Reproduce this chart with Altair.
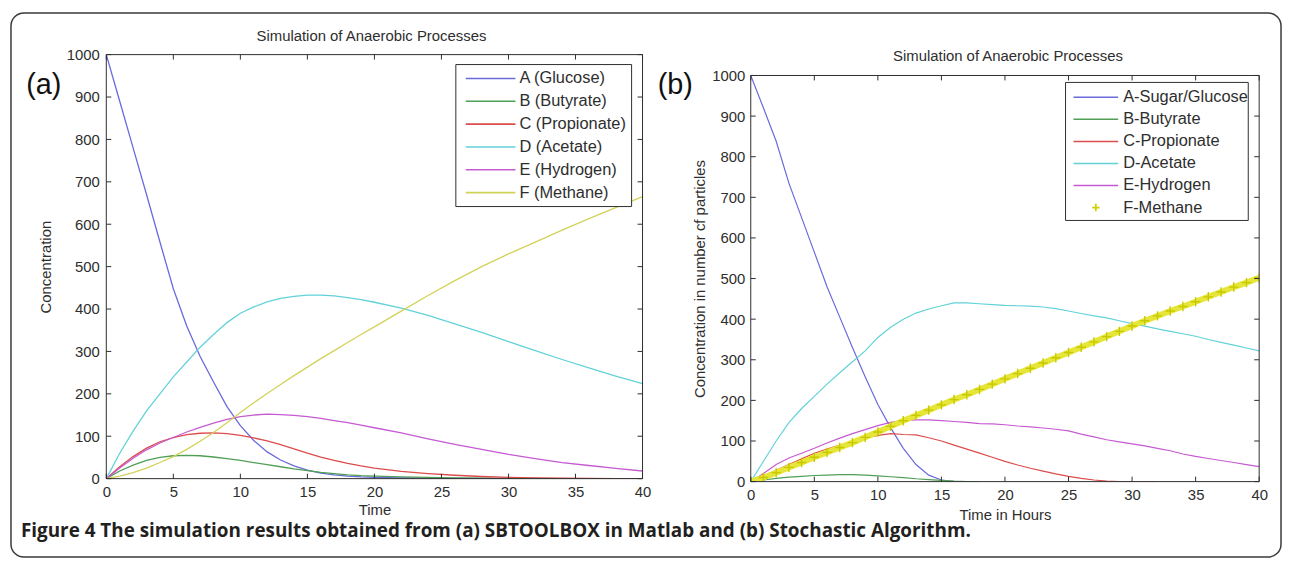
import altair as alt
import pandas as pd

# ---------------- shared text ----------------
TITLE = "Simulation of Anaerobic Processes"
CAPTION = "Figure 4 The simulation results obtained from (a) SBTOOLBOX in Matlab and (b) Stochastic Algorithm."
X_TICKS = [0, 5, 10, 15, 20, 25, 30, 35, 40]
Y_TICKS = [0, 100, 200, 300, 400, 500, 600, 700, 800, 900, 1000]

# ---------------- panel (a): SBTOOLBOX in Matlab ----------------
NAMES_A = ["A (Glucose)", "B (Butyrate)", "C (Propionate)", "D (Acetate)", "E (Hydrogen)", "F (Methane)"]
COLORS_A = ["#6a6adc", "#4f9f55", "#dc4c4c", "#62d2d8", "#c65ad2", "#d2d25a"]
T_A = [0, 1, 2, 3, 4, 5, 6, 7, 8, 9, 10, 11, 12, 13, 14, 15, 16, 17, 18, 19, 20,
       22, 24, 26, 28, 30, 32, 34, 36, 38, 40]
A_GLUCOSE = [1000, 890, 780, 670, 558, 448, 360, 288, 228, 170, 125, 90, 63, 44, 30, 20, 13, 9, 6, 4, 3,
             1.5, 1, 0.5, 0.3, 0, 0, 0, 0, 0, 0]
B_BUTYRATE = [0, 18, 32, 43, 50, 54, 55, 54, 51, 47, 43, 38, 33, 28, 23, 19, 15, 12, 9, 7, 6,
              4, 3, 2, 1, 0.5, 0.3, 0, 0, 0, 0]
C_PROPIONATE = [0, 28, 52, 72, 87, 97, 104, 107, 108, 106, 102, 96, 89, 80, 70, 60, 51, 43, 36, 30, 25,
                17, 12, 8, 5, 3, 2, 1, 0.5, 0, 0]
D_ACETATE = [0, 60, 112, 160, 200, 240, 275, 310, 340, 368, 390, 405, 417, 425, 430, 433, 433, 431, 427, 422, 416,
             402, 385, 365, 345, 323, 302, 281, 261, 242, 224]
E_HYDROGEN = [0, 25, 48, 68, 84, 97, 110, 121, 131, 140, 146, 150, 152, 151, 149, 146, 142, 137, 132, 126, 120,
              108, 94, 81, 69, 57, 47, 38, 31, 24, 18]
F_METHANE = [0, 6, 14, 25, 38, 52, 69, 88, 109, 132, 156, 179, 201, 222, 243, 263, 283, 302, 321, 340, 358,
             395, 432, 467, 500, 530, 558, 586, 613, 639, 665]

# ---------------- panel (b): Stochastic Algorithm ----------------
NAMES_B = ["A-Sugar/Glucose", "B-Butyrate", "C-Propionate", "D-Acetate", "E-Hydrogen", "F-Methane"]
COLORS_B = ["#3a3aa6", "#3f8f45", "#d25a5a", "#52c4c6", "#a646b4", "#dcdc1e"]
T_B = [0, 1, 2, 3, 4, 5, 6, 7, 8, 9, 10, 11, 12, 13, 14, 15, 16, 17, 18, 19, 20,
       21, 22, 23, 24, 25, 26, 27, 28, 29, 30, 31, 32, 33, 34, 35, 36, 37, 38, 39, 40]
A_SUGAR = [1000, 920, 838, 735, 650, 565, 480, 405, 330, 258, 190, 133, 82, 42, 16, 4, 0]
B_BUT = [0, 4, 8, 11, 13, 15, 16, 17, 17, 16, 14, 12, 10, 7, 5, 3, 1, 0, 0]
C_PROP = [0, 14, 28, 42, 56, 70, 80, 90, 99, 107, 114, 118, 116, 115, 108, 100, 90, 80, 70, 60, 50,
          41, 33, 26, 19, 13, 8, 4, 1, 0, 0, 0, 0]
D_ACE = [0, 50, 100, 145, 180, 210, 240, 268, 295, 322, 355, 380, 400, 415, 425, 433, 440, 440, 438, 436, 434,
         433, 432, 430, 426, 420, 414, 408, 403, 396, 389, 383, 376, 370, 364, 358, 350, 343, 336, 329, 322]
E_HYD = [0, 20, 42, 58, 70, 82, 95, 107, 118, 128, 138, 146, 150, 152, 152, 150, 148, 146, 143, 142, 140,
         137, 135, 132, 129, 125, 117, 110, 103, 98, 93, 88, 82, 76, 68, 62, 57, 52, 47, 42, 37]
F_METH = [0, 10, 22, 35, 47, 60, 72, 84, 96, 109, 122, 136, 150, 163, 176, 189, 202, 214, 227, 240, 253,
          266, 279, 292, 305, 318, 331, 344, 357, 370, 383, 396, 408, 420, 431, 443, 455, 467, 479, 490, 502]

FONT = "Liberation Sans"
INK = "#2e2e2e"
PLUS = "M-1,0L1,0M0,-1L0,1"


def long_df(names, t, cols):
    rows = []
    for n, vals in zip(names, cols):
        for ti, vi in zip(t, vals):
            rows.append({"s": n, "t": ti, "v": vi})
    return pd.DataFrame(rows)


def one():
    return pd.DataFrame({"k": [0]})


def label(text, x, y, size, align="center", weight="normal", font=FONT, color=INK):
    return alt.Chart(one()).mark_text(
        text=text, align=align, baseline="middle", font=font, fontSize=size,
        fontWeight=weight, color=color
    ).encode(x=alt.value(x), y=alt.value(y))


def make_panel(c):
    W, H, top = c["W"], c["H"], c["top"]
    plot_h = H - top
    xs = alt.Scale(domain=[0, 40], nice=False, zero=False)
    ys = alt.Scale(domain=[0, 1000], nice=False, zero=False, range=[H, top])
    common = dict(ticks=False, tickSize=0, domain=False, grid=False, labelFlush=False,
                  labelOverlap=False, labelFont=FONT, labelFontSize=15, labelColor=INK, format="d",
                  titleFont=FONT, titleFontSize=15, titleFontWeight="normal", titleColor=INK)
    ax_x = alt.Axis(values=X_TICKS, labelPadding=c["xlab_pad"], titlePadding=c["xtitle_pad"], **common)
    ax_y = alt.Axis(values=Y_TICKS, labelPadding=c["ylab_pad"], titlePadding=c["ytitle_pad"], **common)

    def X(f):
        return alt.X(f, type="quantitative", scale=xs, axis=ax_x, title=c["xtitle"])

    def Y(f):
        return alt.Y(f, type="quantitative", scale=ys, axis=ax_y, title=c["ytitle"])

    color = alt.Color("s:N", scale=alt.Scale(domain=c["names"], range=c["colors"]), legend=None)

    layers = []
    layers.append(alt.Chart(c["line_df"]).mark_line(strokeWidth=c["lw"], clip=True)
                  .encode(x=X("t"), y=Y("v"), color=color))
    if c.get("marker_df") is not None:
        mdf = c["marker_df"]
        layers.append(alt.Chart(mdf).mark_line(strokeWidth=6, color="#e6e638", clip=True)
                      .encode(x=X("t"), y=Y("v")))
        layers.append(alt.Chart(mdf).mark_point(shape=PLUS, filled=False, size=90, strokeWidth=1.4,
                                                color="#c8c800", opacity=1, clip=True)
                      .encode(x=X("t"), y=Y("v")))

    # axes box
    layers.append(alt.Chart(one()).mark_rect(fillOpacity=0, stroke=INK, strokeWidth=1)
                  .encode(x=alt.value(0), x2=alt.value(W), y=alt.value(top), y2=alt.value(H)))
    tx = pd.DataFrame({"t": X_TICKS})
    ty = pd.DataFrame({"v": Y_TICKS})
    tk = dict(color=INK, strokeWidth=1)
    layers.append(alt.Chart(tx).mark_rule(**tk).encode(x=X("t"), y=alt.value(H), y2=alt.value(H - 5)))
    layers.append(alt.Chart(tx).mark_rule(**tk).encode(x=X("t"), y=alt.value(top), y2=alt.value(top + 5)))
    layers.append(alt.Chart(ty).mark_rule(**tk).encode(y=Y("v"), x=alt.value(0), x2=alt.value(5)))
    layers.append(alt.Chart(ty).mark_rule(**tk).encode(y=Y("v"), x=alt.value(W), x2=alt.value(W - 5)))

    # legend
    bx0, bx1, by0, by1 = c["leg_box"]
    layers.append(alt.Chart(one()).mark_rect(fill="white", stroke=INK, strokeWidth=1)
                  .encode(x=alt.value(bx0), x2=alt.value(bx1), y=alt.value(by0), y2=alt.value(by1)))
    rows_py = [c["leg_y0"] + i * c["leg_dy"] for i in range(len(c["names"]))]
    ldf = pd.DataFrame({"s": c["names"], "v": [(H - p) / plot_h * 1000 for p in rows_py]})
    lx0, lx1 = c["leg_line"]
    n_line = len(c["names"]) - (1 if c.get("marker_df") is not None else 0)
    layers.append(alt.Chart(ldf.iloc[:n_line]).mark_rule(strokeWidth=c["lw"] + 0.3)
                  .encode(x=alt.value(lx0), x2=alt.value(lx1), y=Y("v"), color=color))
    if c.get("marker_df") is not None:
        layers.append(alt.Chart(ldf.iloc[n_line:]).mark_point(shape=PLUS, filled=False, size=55,
                                                              strokeWidth=1.8, color="#d0d000", opacity=1)
                      .encode(x=alt.value((lx0 + lx1) / 2), y=Y("v")))
    layers.append(alt.Chart(ldf).mark_text(align="left", baseline="middle", font=FONT,
                                           fontSize=c["leg_fs"], color=INK)
                  .encode(x=alt.value(c["leg_text_x"]), y=Y("v"), text="s:N"))

    # title and panel tag
    layers.append(label(TITLE, c["title_xy"][0], c["title_xy"][1], 15))
    layers.append(label(c["tag"], c["tag_xy"][0], c["tag_xy"][1], 29, color="#111111"))
    layers.extend(c.get("extra", []))
    return alt.layer(*layers).properties(width=W, height=H)


extra_a = [
    alt.Chart(one()).mark_rect(fillOpacity=0, stroke="#3a3a3a", strokeWidth=1.5, cornerRadius=13)
    .encode(x=alt.value(-96), x2=alt.value(1183), y=alt.value(-42), y2=alt.value(506)),
    label(CAPTION, -86, 480, 19, align="left", weight="bold", font="Open Sans", color="#231f20"),
]

panel_a = make_panel(dict(
    W=540, H=427, top=0, names=NAMES_A, colors=COLORS_A,
    line_df=long_df(NAMES_A, T_A, [A_GLUCOSE, B_BUTYRATE, C_PROPIONATE, D_ACETATE, E_HYDROGEN, F_METHANE]),
    marker_df=None, lw=1.3, xtitle="Time", ytitle="Concentration",
    xlab_pad=6, xtitle_pad=3, ylab_pad=7, ytitle_pad=13,
    leg_box=(352, 529, 10, 153), leg_y0=24, leg_dy=23, leg_line=(362, 412), leg_text_x=416, leg_fs=16.5,
    title_xy=(267, -19), tag="(a)", tag_xy=(-63, 31), extra=extra_a,
))

b_cols = [A_SUGAR, B_BUT, C_PROP, D_ACE, E_HYD]
panel_b = make_panel(dict(
    W=512, H=430, top=21, names=NAMES_B, colors=COLORS_B,
    line_df=long_df(NAMES_B[:5], T_B, b_cols),
    marker_df=pd.DataFrame({"t": T_B, "v": F_METH}),
    lw=1.2, xtitle="Time in Hours", ytitle="Concentration in number cf particles",
    xlab_pad=6, xtitle_pad=5, ylab_pad=6, ytitle_pad=4,
    leg_box=(317, 501, 28, 167), leg_y0=43, leg_dy=22.2, leg_line=(325, 370), leg_text_x=375, leg_fs=16.5,
    title_xy=(259, 1), tag="(b)", tag_xy=(-76, 31),
))

chart = alt.hconcat(panel_a, panel_b, spacing=109, bounds="flush").properties(
    padding=2, background="white"
).configure_view(stroke=None)

chart.save("out.html", embed_options={"renderer": "svg", "actions": False})
